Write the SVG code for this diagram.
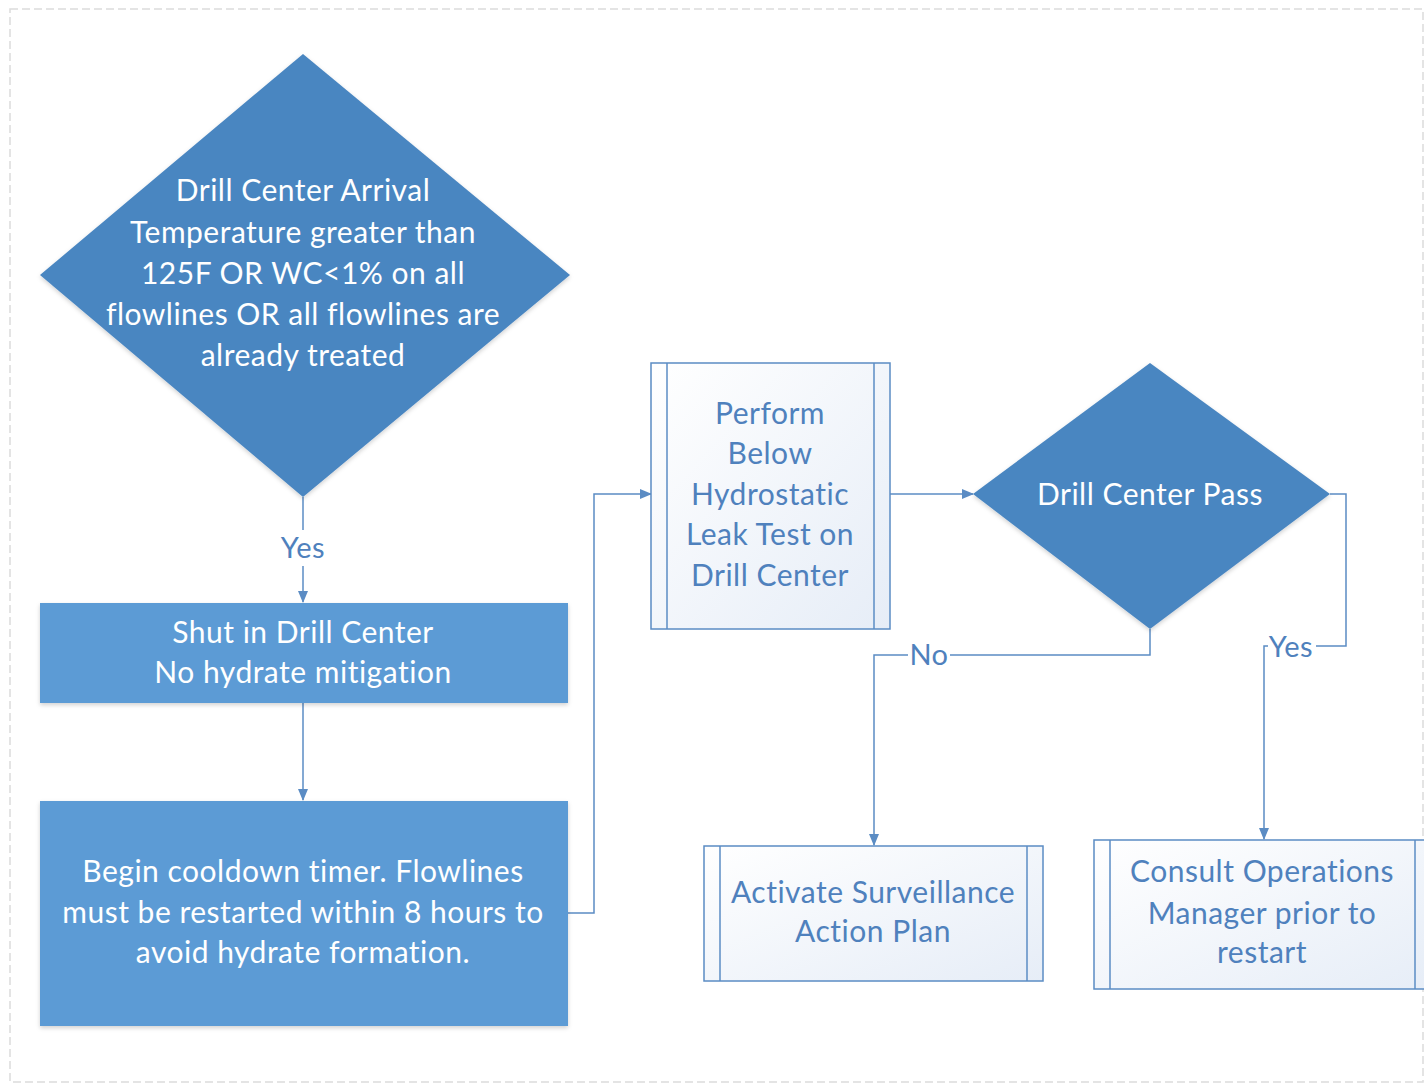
<svg xmlns="http://www.w3.org/2000/svg" width="1424" height="1090" viewBox="0 0 1424 1090">
<style>
.dia{fill:#4a86c1;}
.blk{fill:#5b9bd5;}
.proc{fill:url(#pg);stroke:#5b8cc4;stroke-width:1.5;}
.bar{stroke:#5b8cc4;stroke-width:1.5;fill:none;}
.wt{font-family:Lato,"Open Sans",sans-serif;font-size:30px;letter-spacing:0.5px;fill:#ffffff;text-anchor:middle;}
.bt{font-family:Lato,"Open Sans",sans-serif;font-size:30px;letter-spacing:0.5px;fill:#4f81bd;text-anchor:middle;}
.lbl{font-family:Lato,"Open Sans",sans-serif;font-size:29px;letter-spacing:0.5px;fill:#4f81bd;text-anchor:middle;}
.con{stroke:#5b8cc4;stroke-width:1.5;fill:none;}
</style>
<defs>
<linearGradient id="pg" x1="0" y1="0" x2="1" y2="1">
<stop offset="0" stop-color="#ffffff"/>
<stop offset="1" stop-color="#e6edf7"/>
</linearGradient>
<filter id="sh" x="-5%" y="-5%" width="110%" height="115%">
<feDropShadow dx="0" dy="2" stdDeviation="2" flood-color="#000" flood-opacity="0.18"/>
</filter>
<marker id="ar" markerWidth="12" markerHeight="10" refX="11" refY="5" orient="auto" markerUnits="userSpaceOnUse">
<path d="M0,0 L12,5 L0,10 Z" fill="#5b8cc4"/>
</marker>
</defs>
<rect x="10" y="9" width="1413" height="1073" fill="#ffffff" stroke="#dcdcdc" stroke-width="1.5" stroke-dasharray="8 4"/>

<g id="connectors">
<line class="con" x1="303" y1="497" x2="303" y2="530"/>
<line class="con" x1="303" y1="566" x2="303" y2="602" marker-end="url(#ar)"/>
<text class="lbl" x="303" y="558">Yes</text>
<line class="con" x1="303" y1="703" x2="303" y2="800" marker-end="url(#ar)"/>
<polyline class="con" points="568,913 594,913 594,494 651,494" marker-end="url(#ar)"/>
<line class="con" x1="890" y1="494" x2="973" y2="494" marker-end="url(#ar)"/>
<polyline class="con" points="1150,629 1150,655 950,655"/>
<polyline class="con" points="908,655 874,655 874,845" marker-end="url(#ar)"/>
<text class="lbl" x="929" y="665">No</text>
<polyline class="con" points="1330,494 1346,494 1346,646 1316,646"/>
<polyline class="con" points="1268,646 1264,646 1264,839" marker-end="url(#ar)"/>
<text class="lbl" x="1291" y="657">Yes</text>
</g>

<g id="decision1">
<polygon class="dia" points="303,54 570,275 303,497 40,275" filter="url(#sh)"/>
<text class="wt" x="303" y="201">Drill Center Arrival</text>
<text class="wt" x="303" y="243">Temperature greater than</text>
<text class="wt" x="303" y="284">125F OR WC&lt;1% on all</text>
<text class="wt" x="303" y="325">flowlines OR all flowlines are</text>
<text class="wt" x="303" y="366">already treated</text>
</g>

<g id="shutin">
<rect class="blk" x="40" y="603" width="528" height="100" filter="url(#sh)"/>
<text class="wt" x="303" y="643">Shut in Drill Center</text>
<text class="wt" x="303" y="683">No hydrate mitigation</text>
</g>

<g id="cooldown">
<rect class="blk" x="40" y="801" width="528" height="225" filter="url(#sh)"/>
<text class="wt" x="303" y="882">Begin cooldown timer. Flowlines</text>
<text class="wt" x="303" y="923">must be restarted within 8 hours to</text>
<text class="wt" x="303" y="963">avoid hydrate formation.</text>
</g>

<g id="leaktest">
<rect class="proc" x="651" y="363" width="239" height="266"/>
<line class="bar" x1="667" y1="363" x2="667" y2="629"/>
<line class="bar" x1="874" y1="363" x2="874" y2="629"/>
<text class="bt" x="770" y="424">Perform</text>
<text class="bt" x="770" y="464">Below</text>
<text class="bt" x="770" y="505">Hydrostatic</text>
<text class="bt" x="770" y="545">Leak Test on</text>
<text class="bt" x="770" y="586">Drill Center</text>
</g>

<g id="decision2">
<polygon class="dia" points="1150,363 1330,494 1150,629 973,494" filter="url(#sh)"/>
<text class="wt" x="1150" y="505">Drill Center Pass</text>
</g>

<g id="surveillance">
<rect class="proc" x="704" y="846" width="339" height="135"/>
<line class="bar" x1="720" y1="846" x2="720" y2="981"/>
<line class="bar" x1="1027" y1="846" x2="1027" y2="981"/>
<text class="bt" x="873" y="903">Activate Surveillance</text>
<text class="bt" x="873" y="942">Action Plan</text>
</g>

<g id="consult">
<rect class="proc" x="1094" y="840" width="337" height="149"/>
<line class="bar" x1="1110" y1="840" x2="1110" y2="989"/>
<line class="bar" x1="1415" y1="840" x2="1415" y2="989"/>
<text class="bt" x="1262" y="882">Consult Operations</text>
<text class="bt" x="1262" y="924">Manager prior to</text>
<text class="bt" x="1262" y="963">restart</text>
</g>
</svg>
